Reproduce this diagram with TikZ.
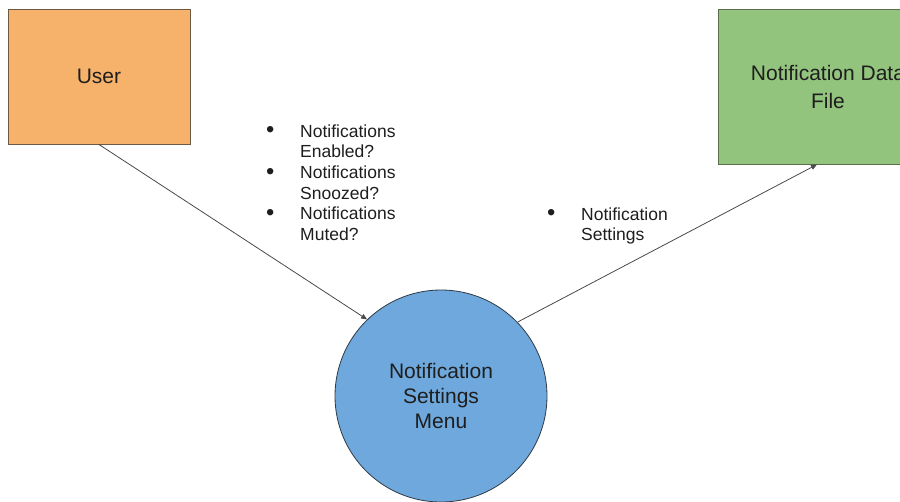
\documentclass[tikz,border=0pt]{standalone}
\usepackage{fontspec}
\setmainfont{Liberation Sans}
\usetikzlibrary{arrows.meta}
\definecolor{userfill}{HTML}{F6B26B}
\definecolor{userline}{HTML}{6E5A44}
\definecolor{filefill}{HTML}{93C47D}
\definecolor{fileline}{HTML}{5A6E4E}
\definecolor{menufill}{HTML}{6FA8DC}
\definecolor{menuline}{HTML}{2F3B46}
\definecolor{flowline}{HTML}{4A4A4A}
\definecolor{ink}{HTML}{1E1E1E}
\tikzset{
  entity/.style={draw, line width=1pt, inner sep=0pt, align=center, text=ink,
    font=\fontsize{21}{28}\selectfont},
  process/.style={circle, draw=menuline, line width=0.8pt, fill=menufill, inner sep=0pt,
    minimum size=212pt, align=center, text=ink, font=\fontsize{21}{25}\selectfont},
  flow/.style={draw=flowline, line width=0.8pt, -{Triangle[length=6pt,width=5pt]}},
  notes/.style={inner sep=0pt, anchor=north west, text=ink,
    font=\fontsize{17.5}{20.7}\selectfont}
}
\newcommand{\bul}{\makebox[34pt][l]{\raisebox{-0.6pt}{\scalebox{1.35}{\textbullet}}}}
\begin{document}
\begin{tikzpicture}[x=1pt,y=-1pt]
  \useasboundingbox (0,0) rectangle (900,501);
  \clip (0,0) rectangle (900,501);
  \fill[white] (0,0) rectangle (900,501);

  % external entities and the process
  \node[entity, draw=userline, fill=userfill, minimum width=182pt, minimum height=135pt]
    (user) at (99,76.5) {\raisebox{-1pt}{User}};
  \node[entity, draw=fileline, fill=filefill, minimum width=220pt, minimum height=155pt]
    (data) at (828,86.5) {Notification Data\\File};
  \node[process] (menu) at (441,396) {Notification\\Settings\\Menu};

  % data flows
  \draw[flow] (user.south) -- (menu.134.6);
  \draw[flow] (menu.44.6) -- ([xshift=-11pt]data.south);

  % flow labels
  \node[notes] (queries) at (266,122.5) {%
    \begin{tabular}{@{}l@{}l@{}}
      \bul & Notifications\\
           & Enabled?\\
      \bul & Notifications\\
           & Snoozed?\\
      \bul & Notifications\\
           & Muted?
    \end{tabular}};
  \node[notes] (settings) at (547,205.5) {%
    \begin{tabular}{@{}l@{}l@{}}
      \bul & Notification\\
           & Settings
    \end{tabular}};
\end{tikzpicture}
\end{document}
